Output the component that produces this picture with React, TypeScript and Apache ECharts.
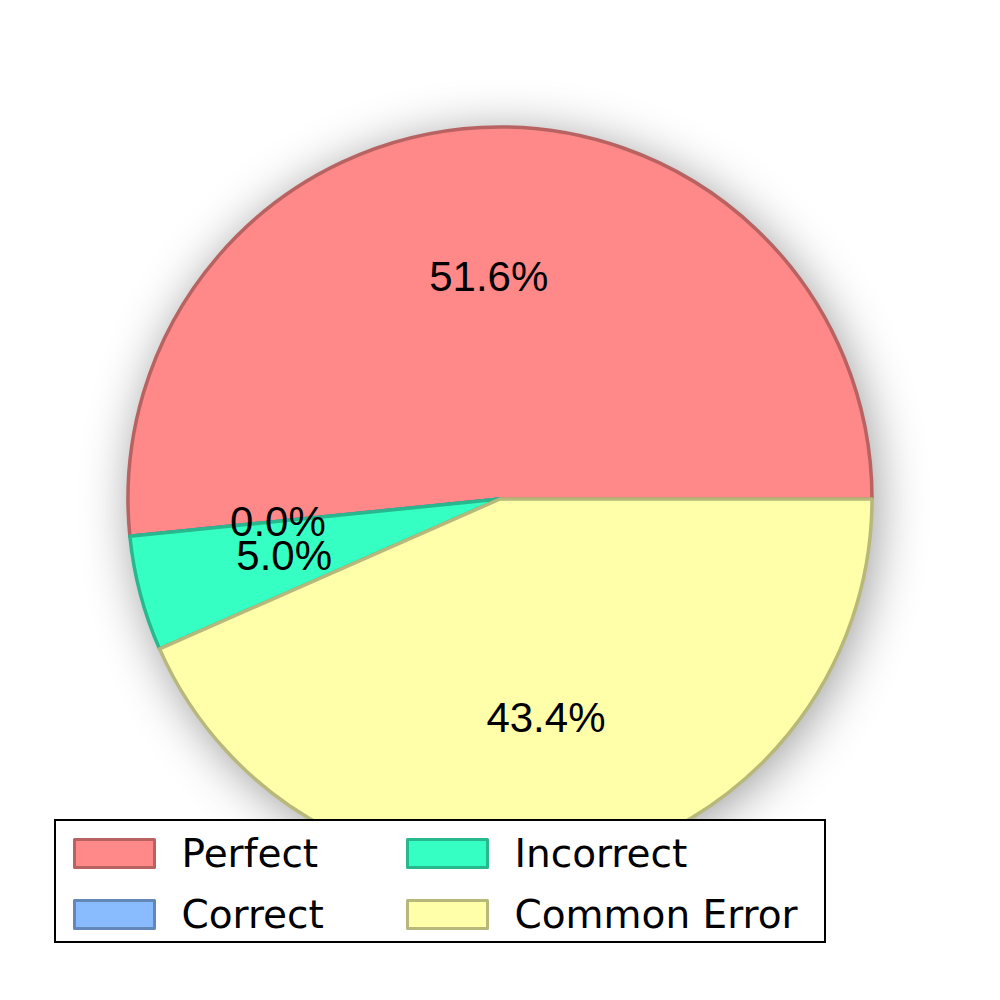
import React, { useEffect, useRef } from "react";
import * as echarts from "echarts";

const categories = ["Perfect", "Correct", "Incorrect", "Common Error"];
const values = [51.6, 0.0, 5.0, 43.4];
const fillColors = ["#FF8888", "#88BBFF", "#36FFC4", "#FFFFAA"];
const edgeColors = ["#B86262", "#6287B8", "#27B88D", "#B8B87A"];
const legendLeftColumn = ["Perfect", "Correct"];
const legendRightColumn = ["Incorrect", "Common Error"];
const labelRadiusFraction = 0.6;

export default function App() {
  const ref = useRef<HTMLDivElement>(null);
  useEffect(() => {
    document.body.style.margin = "0";
    const chart = echarts.init(ref.current!, null, { renderer: "svg" });
    const total = values.reduce((a, b) => a + b, 0);
    // mid-angle of each slice (in value units), for the percentage labels
    let acc = 0;
    const labelPoints = values.map((v) => {
      const mid = acc + v / 2;
      acc += v;
      return [labelRadiusFraction, mid];
    });
    const legendItems = (names: string[]) =>
      names.map((n) => {
        const i = categories.indexOf(n);
        return {
          name: n,
          itemStyle: {
            color: fillColors[i],
            borderColor: edgeColors[i],
            borderWidth: 3,
          },
        };
      });
    const legendBase = {
      orient: "vertical",
      icon: "rect",
      itemWidth: 80,
      itemHeight: 28,
      itemGap: 22,
      padding: 0,
      z: 20,
      selectedMode: false,
      itemStyle: { borderWidth: 3 },
      textStyle: {
        fontFamily: "DejaVu Sans",
        fontSize: 39,
        color: "#000",
        padding: [0, 0, 0, 22],
      },
    };
    chart.setOption({
      animation: false,
      backgroundColor: "#fff",
      polar: { center: [500, 499], radius: 372 },
      angleAxis: {
        type: "value",
        min: 0,
        max: total,
        startAngle: 0,
        clockwise: false,
        show: false,
      },
      radiusAxis: { type: "value", min: 0, max: 1, show: false },
      legend: [
        { ...legendBase, data: legendItems(legendLeftColumn), left: 73, top: 834 },
        { ...legendBase, data: legendItems(legendRightColumn), left: 406, top: 834 },
      ],
      graphic: [
        {
          type: "rect",
          z: 10,
          shape: { x: 55, y: 820, width: 770, height: 122 },
          style: { fill: "#fff", stroke: "#000", lineWidth: 2 },
        },
      ],
      series: [
        {
          type: "pie",
          name: "shadow",
          center: [500, 499],
          radius: [0, 372],
          silent: true,
          z: 1,
          label: { show: false },
          labelLine: { show: false },
          itemStyle: {
            color: "#fff",
            shadowBlur: 50,
            shadowColor: "rgba(0,0,0,0.4)",
            shadowOffsetX: 4,
            shadowOffsetY: 6,
          },
          data: [{ name: "total", value: total }],
        },
        {
          type: "pie",
          name: "main",
          center: [500, 499],
          radius: [0, 372],
          startAngle: 0,
          clockwise: false,
          silent: true,
          z: 2,
          avoidLabelOverlap: false,
          label: { show: false },
          labelLine: { show: false },
          emphasis: { disabled: true },
          data: categories.map((c, i) => ({
            name: c,
            value: values[i],
            itemStyle: {
              color: fillColors[i],
              borderColor: edgeColors[i],
              borderWidth: 3.5,
            },
          })),
        },
        {
          type: "scatter",
          name: "labels",
          coordinateSystem: "polar",
          silent: true,
          z: 5,
          symbolSize: 1,
          itemStyle: { color: "rgba(0,0,0,0)" },
          label: {
            show: true,
            position: "inside",
            align: "center",
            verticalAlign: "middle",
            offset: [0, 2],
            fontFamily: "Liberation Sans",
            fontSize: 42,
            color: "#000",
            opacity: 1,
            textBorderWidth: 0,
            textBorderColor: "transparent",
            textShadowBlur: 0,
          },
          labelLayout: { hideOverlap: false },
          emphasis: { disabled: true },
          data: labelPoints.map((p, i) => ({
            value: p,
            label: {
              formatter: ((values[i] / total) * 100).toFixed(1) + "%",
            },
          })),
        },
      ],
    });
    return () => chart.dispose();
  }, []);
  return <div ref={ref} style={{ width: 1000, height: 1000 }} />;
}
